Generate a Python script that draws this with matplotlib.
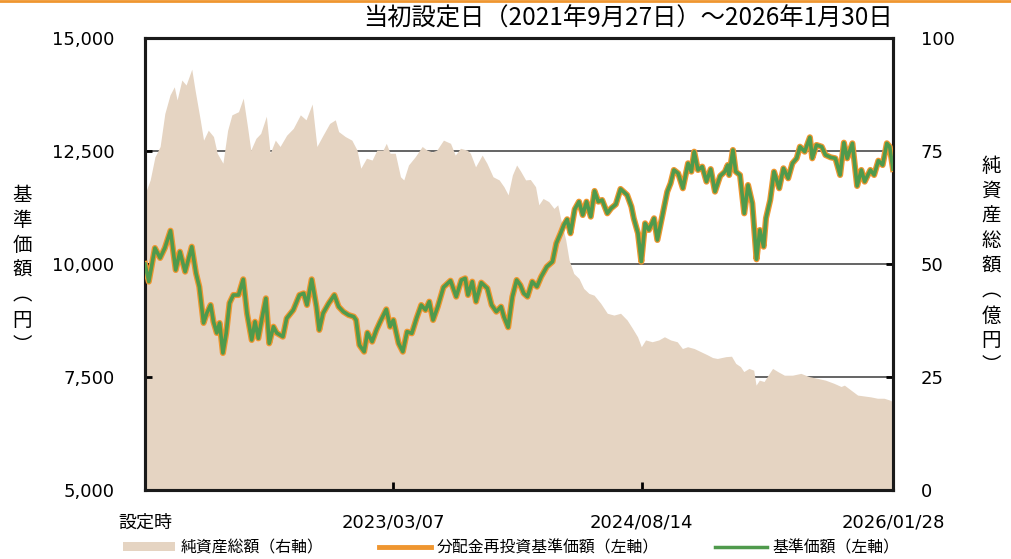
import matplotlib.pyplot as plt
import matplotlib.lines as mlines
import matplotlib.patches as mpatches
import pandas as pd

plt.rcParams["font.family"] = ["DejaVu Sans", "Noto Sans CJK JP"]

LAUNCH = pd.Timestamp("2021-09-27")
END = pd.Timestamp("2026-01-28")

# 基準価額 (円) -- days since launch, value
price_days = [
    0, 8, 21, 32, 42, 54, 65, 74, 85, 99, 108, 115, 124, 131, 139, 145, 152, 158, 165, 172,
    179, 187, 198, 208, 216, 226, 233, 240, 247, 256, 263, 272, 279, 292, 300, 314, 327, 336, 343, 353,
    363, 369, 377, 389, 401, 410, 420, 431, 442, 447, 454, 464, 471, 481, 490, 498, 511, 519, 526, 537,
    546, 555, 565, 575, 585, 594, 602, 610, 620, 632, 647, 659, 670, 678, 684, 693, 701, 712, 725, 734,
    744, 754, 760, 769, 778, 787, 795, 802, 810, 820, 830, 839, 851, 863, 871, 880, 887, 894, 901, 910,
    919, 927, 935, 944, 952, 960, 968, 979, 987, 997, 1007, 1021, 1030, 1035, 1044, 1051, 1059, 1067, 1078, 1085,
    1098, 1106, 1113, 1120, 1129, 1139, 1150, 1157, 1163, 1171, 1180, 1189, 1198, 1207, 1218, 1228, 1234, 1237, 1245, 1251,
    1260, 1269, 1277, 1286, 1295, 1302, 1310, 1315, 1324, 1332, 1343, 1352, 1362, 1371, 1380, 1387, 1397, 1408, 1413, 1422,
    1433, 1441, 1452, 1462, 1472, 1480, 1487, 1498, 1508, 1517, 1524, 1536, 1544, 1553, 1562, 1571, 1577, 1584,
]
price = [
    10000, 9610, 10354, 10133, 10354, 10737, 9867, 10272, 9830, 10383, 9795, 9498, 8695, 8916, 9093, 8723, 8474, 8695, 8031, 8474,
    9137, 9314, 9314, 9662, 8909, 8319, 8723, 8355, 8761, 9241, 8245, 8613, 8474, 8392, 8798, 8982, 9314, 9351, 9093, 9662,
    9056, 8540, 8909, 9130, 9314, 9056, 8945, 8872, 8835, 8761, 8208, 8060, 8481, 8282, 8540, 8723, 8997, 8613, 8761, 8245,
    8060, 8503, 8466, 8798, 9093, 8982, 9167, 8761, 9056, 9485, 9631, 9277, 9646, 9683, 9314, 9610, 9167, 9588, 9462, 9093,
    8945, 9056, 8835, 8600, 9277, 9646, 9530, 9351, 9277, 9610, 9498, 9720, 9941, 10052, 10458, 10679, 10863, 10989, 10679, 11210,
    11379, 11084, 11379, 11047, 11616, 11379, 11416, 11121, 11232, 11320, 11660, 11527, 11269, 11011, 10679, 10052, 10900, 10752, 11011, 10531,
    11195, 11601, 11785, 12080, 12006, 11675, 12228, 12043, 12485, 12080, 12154, 11822, 12100, 11601, 11947, 12043, 12190, 11969, 12522, 12043,
    11969, 11121, 11748, 11343, 10104, 10752, 10383, 11011, 11416, 12043, 11675, 12117, 11896, 12228, 12338, 12595, 12485, 12803, 12338, 12633,
    12595, 12412, 12360, 12338, 11969, 12684, 12338, 12670, 11726, 12080, 11822, 12080, 11969, 12286, 12190, 12670, 12595, 12100,
]

# 純資産総額 (億円)
assets_days = [
    0, 11, 21, 32, 42, 53, 62, 68, 78, 87, 99, 106, 117, 124, 134, 145, 153, 165, 175, 184,
    198, 208, 217, 224, 235, 245, 257, 265, 276, 286, 300, 314, 329, 341, 354, 364, 377, 391, 403, 410,
    424, 438, 449, 457, 469, 481, 491, 504, 511, 519, 530, 541, 548, 558, 572, 587, 597, 608, 618, 632,
    647, 657, 668, 682, 689, 700, 714, 724, 737, 750, 760, 769, 778, 787, 795, 806, 816, 827, 834, 843,
    855, 866, 874, 881, 891, 898, 908, 919, 929, 940, 951, 965, 979, 993, 1007, 1021, 1032, 1043, 1051, 1060,
    1074, 1088, 1100, 1113, 1127, 1138, 1149, 1163, 1177, 1191, 1202, 1212, 1230, 1242, 1251, 1261, 1268, 1279, 1289, 1294,
    1301, 1311, 1322, 1329, 1340, 1354, 1371, 1389, 1406, 1424, 1441, 1459, 1474, 1481, 1495, 1509, 1523, 1537, 1551, 1565,
    1577, 1584,
]
assets = [
    65.5, 68.6, 73.7, 76.0, 83.3, 87.4, 89.2, 86.3, 90.7, 89.6, 93.1, 88.5, 81.9, 77.4, 79.6, 78.2, 74.5, 72.3, 79.6, 83.0,
    83.7, 86.7, 80.4, 75.2, 77.8, 78.9, 82.7, 74.5, 77.4, 76.0, 78.5, 80.0, 83.0, 81.9, 85.4, 76.0, 78.5, 81.1, 81.9, 79.3,
    78.2, 77.4, 75.2, 71.2, 73.4, 73.0, 75.2, 75.2, 76.7, 74.5, 74.5, 69.3, 68.6, 71.9, 73.7, 76.0, 75.2, 74.8, 75.2, 77.4,
    76.7, 74.1, 75.6, 75.2, 74.5, 71.5, 74.1, 72.3, 69.3, 68.6, 67.1, 65.3, 69.7, 71.9, 70.6, 68.6, 68.7, 67.1, 63.1, 64.5,
    63.8, 62.3, 63.1, 59.7, 55.3, 50.9, 47.9, 46.8, 44.6, 43.5, 43.1, 41.3, 39.1, 38.7, 39.1, 37.6, 35.8, 33.9, 31.7, 33.2,
    32.8, 33.2, 33.9, 33.2, 32.8, 31.3, 31.7, 31.3, 30.6, 29.9, 29.3, 29.1, 29.5, 29.6, 28.0, 27.3, 26.2, 26.9, 26.5, 23.2,
    24.3, 24.0, 25.8, 26.9, 26.2, 25.4, 25.4, 25.8, 25.1, 24.7, 24.3, 23.6, 22.9, 23.2, 22.1, 21.0, 20.8, 20.6, 20.3, 20.3,
    19.9, 19.5,
]

tick_dates = ["2021-09-27", "2023-03-07", "2024-08-14", "2026-01-28"]
tick_labels = ["設定時", "2023/03/07", "2024/08/14", "2026/01/28"]

price_x = LAUNCH + pd.to_timedelta(price_days, unit="D")
assets_x = LAUNCH + pd.to_timedelta(assets_days, unit="D")

BEIGE = "#e5d4c2"
ORANGE = "#ef9630"
GREEN = "#4f9a4c"
CJK = ["Noto Sans CJK JP"]

fig = plt.figure(figsize=(10.11, 5.59), dpi=100)
ax = fig.add_axes([145 / 1011, 1 - 490 / 559, 748 / 1011, 452 / 559])
ax2 = ax.twinx()

# area on the right axis, drawn behind the price lines
ax2.fill_between(assets_x, assets, 0, color=BEIGE, linewidth=0, zorder=2)
ax2.set_ylim(0, 100)
ax2.set_yticks([0, 25, 50, 75, 100])
ax2.set_axisbelow(True)
ax2.grid(axis="y", color="#3a3a3a", linewidth=1.1, zorder=1)
ax2.tick_params(axis="y", direction="in", length=5, width=2, pad=20, labelsize=13)
ax.set_zorder(ax2.get_zorder() + 1)
ax.patch.set_visible(False)

ax.plot(price_x, price, color=ORANGE, linewidth=4.4, solid_joinstyle="round", zorder=3)
ax.plot(price_x, price, color=GREEN, linewidth=2.6, solid_joinstyle="round", zorder=4)

ax.set_ylim(5000, 15000)
ax.set_yticks([5000, 7500, 10000, 12500, 15000])
ax.set_yticklabels([f"{v:,}" for v in [5000, 7500, 10000, 12500, 15000]])
ax.set_xlim(LAUNCH, END)
ax.set_xticks(pd.to_datetime(tick_dates))
ax.set_xticklabels(tick_labels)
ax.tick_params(axis="y", direction="in", length=5, width=2, pad=22, labelsize=13)
ax.tick_params(axis="x", direction="in", length=6, width=2, pad=17, labelsize=13)

for a in (ax, ax2):
    for s in a.spines.values():
        s.set_linewidth(2.2)
        s.set_color("#1a1a1a")

fig.text(893 / 1011, 1 - 19 / 559, "当初設定日（2021年9月27日）～2026年1月30日",
         ha="right", va="center", fontsize=17.5, family=CJK)

fig.text(22 / 1011, 1 - 270 / 559, "基\n準\n価\n額\n︵\n円\n︶", ha="center", va="center",
         fontsize=14, linespacing=1.25, family=CJK)
fig.text(991 / 1011, 1 - 266 / 559, "純\n資\n産\n総\n額\n︵\n億\n円\n︶", ha="center", va="center",
         fontsize=14, linespacing=1.25, family=CJK)

# thin orange rule at the top of the page
fig.add_artist(mlines.Line2D([0, 1], [0.998, 0.998], color=ORANGE, linewidth=2,
                             transform=fig.transFigure))

handles = [
    mpatches.Patch(color=BEIGE, linewidth=0),
    mlines.Line2D([], [], color=ORANGE, linewidth=3.5),
    mlines.Line2D([], [], color=GREEN, linewidth=2.5),
]
labels = ["純資産総額（右軸）", "分配金再投資基準価額（左軸）", "基準価額（左軸）"]
fig.legend(handles, labels, loc="center left", bbox_to_anchor=(123 / 1011, 1 - 548 / 559),
           ncol=3, frameon=False, handlelength=3.3, handleheight=0.5,
           handletextpad=0.35, columnspacing=3.5, borderpad=0, borderaxespad=0,
           prop={"family": CJK, "size": 11.4})

fig.savefig("out.png", dpi=100)
